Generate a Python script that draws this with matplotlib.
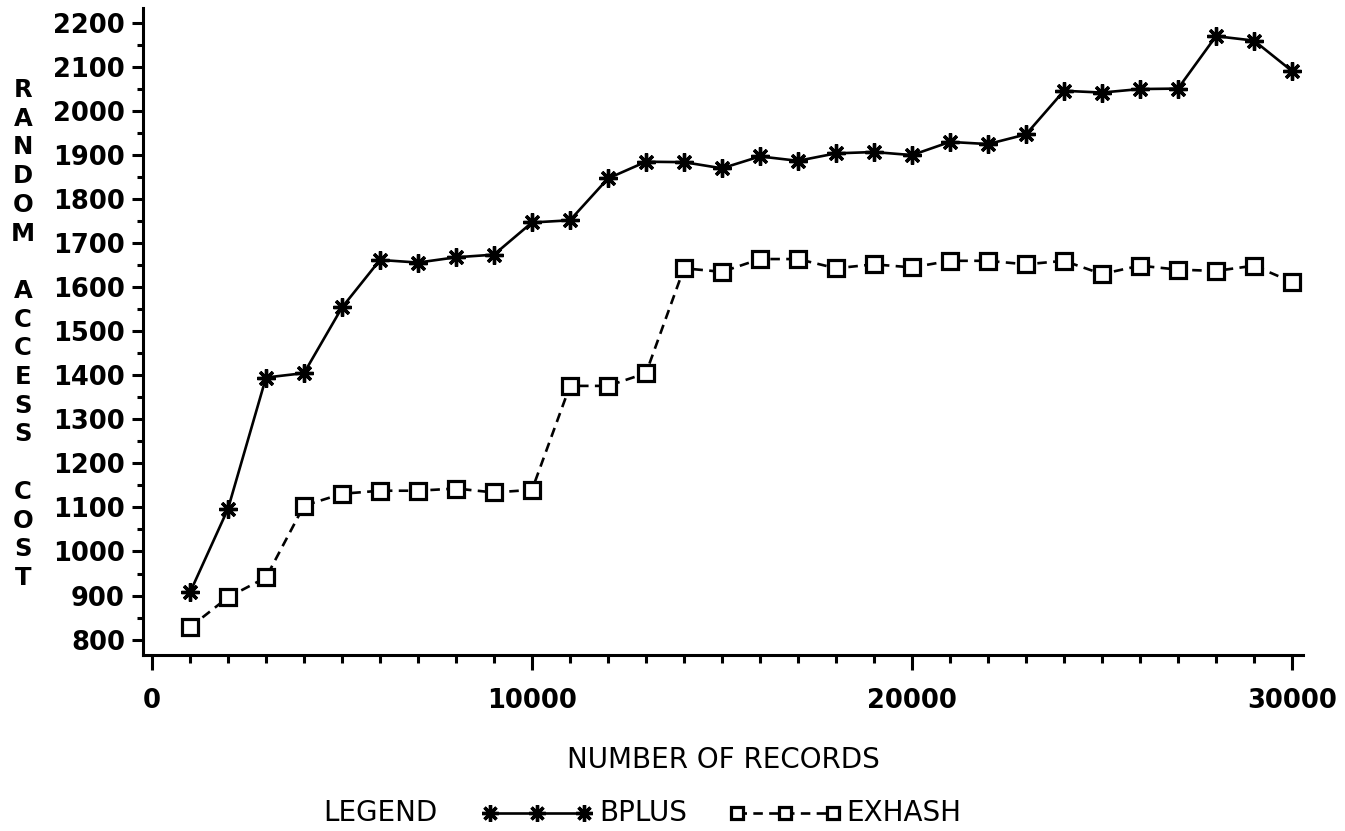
import matplotlib
matplotlib.use("Agg")
import matplotlib.pyplot as plt
from matplotlib.lines import Line2D
from matplotlib.ticker import MultipleLocator

# Number of records inserted (x) and measured random access cost (y)
records = [1000, 2000, 3000, 4000, 5000, 6000, 7000, 8000, 9000, 10000,
           11000, 12000, 13000, 14000, 15000, 16000, 17000, 18000, 19000, 20000,
           21000, 22000, 23000, 24000, 25000, 26000, 27000, 28000, 29000, 30000]
bplus = [907, 1097, 1395, 1405, 1554, 1662, 1656, 1668, 1674, 1747,
         1752, 1847, 1885, 1884, 1870, 1897, 1887, 1904, 1907, 1900,
         1930, 1925, 1947, 2046, 2042, 2050, 2051, 2170, 2160, 2091]
exhash = [828, 896, 941, 1104, 1131, 1138, 1138, 1143, 1134, 1140,
          1376, 1376, 1405, 1643, 1635, 1664, 1664, 1643, 1652, 1645,
          1660, 1660, 1652, 1660, 1630, 1649, 1640, 1637, 1649, 1612]

x_ticks = [0, 10000, 20000, 30000]
y_ticks = list(range(800, 2201, 100))
x_title = "NUMBER OF RECORDS"
y_title = "RANDOM ACCESS COST"
series_names = ["BPLUS", "EXHASH"]

W, H = 1345, 831
fig = plt.figure(figsize=(W / 100, H / 100), dpi=100)
ax = fig.add_axes([143 / W, 1 - 655 / H, (1303 - 143) / W, (655 - 8) / H])

star = (8, 2, 0)
line_kw_b = dict(color="black", lw=1.9, marker=star, markersize=13,
                 markeredgewidth=2.4, markeredgecolor="black")
line_kw_e = dict(color="black", lw=1.9, dashes=[3.6, 2.4], marker="s",
                 markersize=11, markeredgewidth=2.3, markeredgecolor="black",
                 markerfacecolor="white")

ax.plot(records, bplus, **line_kw_b, zorder=3)
ax.plot(records, exhash, **line_kw_e, zorder=3)

ax.set_xlim(-237, 30290)
ax.set_ylim(765, 2234)

for s in ("top", "right"):
    ax.spines[s].set_visible(False)
for s in ("left", "bottom"):
    ax.spines[s].set_linewidth(2.2)

ax.set_xticks(x_ticks)
ax.set_xticklabels([str(v) for v in x_ticks])
ax.xaxis.set_minor_locator(MultipleLocator(1000))
ax.set_yticks(y_ticks)
ax.set_yticklabels([str(v) for v in y_ticks])
ax.yaxis.set_minor_locator(MultipleLocator(50))

for lab in ax.get_xticklabels() + ax.get_yticklabels():
    lab.set_fontfamily("DejaVu Sans")
    lab.set_fontweight("bold")
    lab.set_fontsize(18.5)

ax.tick_params(axis="x", which="major", direction="out", length=11, width=2.2, pad=13)
ax.tick_params(axis="x", which="minor", direction="out", length=6, width=2.2)
ax.tick_params(axis="y", which="major", direction="out", length=8, width=2.2, pad=5)
ax.tick_params(axis="y", which="minor", direction="out", length=4, width=2.2)

# Vertical stacked y-axis title
for i, ch in enumerate(y_title):
    if ch != " ":
        fig.text(23 / W, 1 - (90 + i * 28.7) / H, ch, ha="center", va="center",
                 fontfamily="DejaVu Sans", fontweight="bold", fontsize=17.5)

label_font = dict(fontfamily="DejaVu Sans", fontsize=20)
fig.text(723 / W, 1 - 760 / H, x_title, ha="center", va="center", **label_font)

# Legend row along the bottom
ly = 1 - 813 / H
fig.text(380 / W, ly, "LEGEND", ha="center", va="center", **label_font)
fig.add_artist(Line2D([490 / W, 537 / W, 584 / W], [ly, ly, ly],
                      transform=fig.transFigure, **dict(line_kw_b, markersize=12)))
fig.text(599 / W, ly, series_names[0], ha="left", va="center", **label_font)
fig.add_artist(Line2D([737 / W, 785 / W, 833 / W], [ly, ly, ly],
                      transform=fig.transFigure, **dict(line_kw_e, markersize=9)))
fig.text(846 / W, ly, series_names[1], ha="left", va="center", **label_font)

fig.savefig("out.png", dpi=100, facecolor="white")
